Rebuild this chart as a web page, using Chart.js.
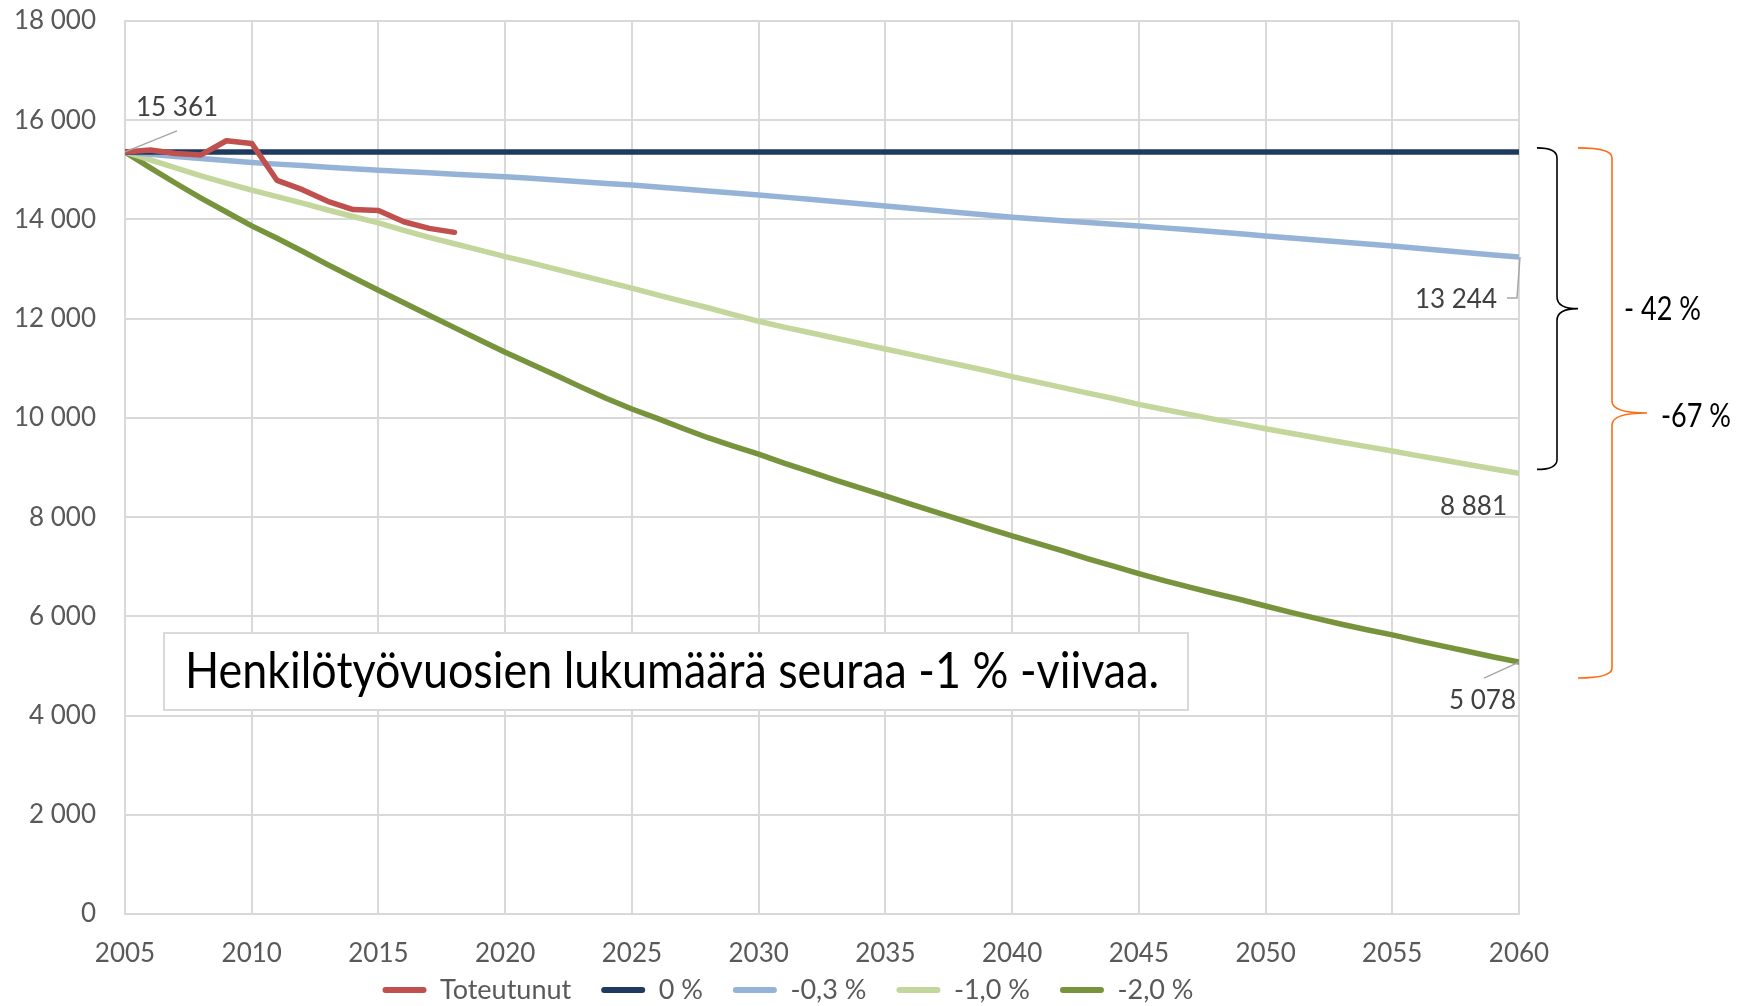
<!DOCTYPE html>
<html><head><meta charset="utf-8">
<script src="https://cdn.jsdelivr.net/npm/chart.js@4.4.1/dist/chart.umd.min.js"></script>
<style>html,body{margin:0;padding:0;background:#fff;overflow:hidden}</style>
</head><body>
<canvas id="c" width="1739" height="1006"></canvas>
<script>
const years = [2005,2006,2007,2008,2009,2010,2011,2012,2013,2014,2015,2016,2017,2018,2019,2020,2021,2022,2023,2024,2025,2026,2027,2028,2029,2030,2031,2032,2033,2034,2035,2036,2037,2038,2039,2040,2041,2042,2043,2044,2045,2046,2047,2048,2049,2050,2051,2052,2053,2054,2055,2056,2057,2058,2059,2060];
const toteutunutYears = [2005,2006,2007,2008,2009,2010,2011,2012,2013,2014,2015,2016,2017,2018];
const toteutunut = [15361,15400,15330,15300,15586,15533,14786,14600,14366,14200,14180,13953,13820,13740];
const zero = [15361,15361,15361,15361,15361,15361,15361,15361,15361,15361,15361,15361,15361,15361,15361,15361,15361,15361,15361,15361,15361,15361,15361,15361,15361,15361,15361,15361,15361,15361,15361,15361,15361,15361,15361,15361,15361,15361,15361,15361,15361,15361,15361,15361,15361,15361,15361,15361,15361,15361,15361,15361,15361,15361,15361,15361];
const minus03 = [15361,15315,15270,15230,15190,15150,15115,15085,15050,15020,14990,14965,14940,14910,14885,14860,14830,14795,14760,14725,14694,14655,14615,14575,14535,14493,14450,14405,14360,14315,14270,14225,14180,14135,14090,14046,14010,13975,13940,13905,13868,13830,13790,13750,13710,13667,13625,13585,13545,13505,13466,13420,13375,13330,13285,13244];
const minus10 = [15361,15200,15040,14880,14730,14590,14460,14330,14190,14060,13932,13780,13640,13510,13380,13252,13130,13000,12870,12740,12617,12480,12350,12220,12080,11947,11830,11720,11610,11500,11389,11280,11170,11060,10950,10831,10720,10610,10500,10390,10272,10170,10070,9970,9880,9781,9690,9600,9510,9420,9334,9240,9150,9060,8970,8881];
const minus20 = [15361,15040,14730,14430,14150,13870,13620,13360,13090,12830,12573,12320,12070,11820,11570,11322,11090,10860,10620,10390,10180,9990,9790,9600,9430,9268,9090,8920,8750,8590,8430,8260,8100,7940,7780,7620,7470,7320,7160,7010,6860,6720,6590,6460,6340,6208,6080,5960,5840,5730,5627,5510,5400,5290,5180,5078];
const seriesNames = ['Toteutunut','0 %','-0,3 %','-1,0 %','-2,0 %'];
const xTicks = [2005,2010,2015,2020,2025,2030,2035,2040,2045,2050,2055,2060];
const yTicks = [0,2000,4000,6000,8000,10000,12000,14000,16000,18000];
const noteText = 'Henkilötyövuosien lukumäärä seuraa -1 % -viivaa.';
const bracePercents = ['- 42 %','-67 %'];

function pts(xs, ys){ return xs.map((v,i)=>({x:v, y:ys[i]})); }
function fmt(v){ return String(v).replace(/\B(?=(\d{3})+(?!\d))/g,' '); }

const colors = ['#c0504d','#1f3a5f','#95b3d7','#c3d69b','#77933c'];
const dataSets = [pts(toteutunutYears,toteutunut), pts(years,zero), pts(years,minus03), pts(years,minus10), pts(years,minus20)];

const legendPlace = {
  id:'legendPlace',
  afterLayout(chart){
    const lg = chart.legend; if (!lg) return;
    const h = lg.bottom - lg.top;
    lg.left = 57;
    lg.top = 946.5; lg.bottom = lg.top + h;
  }
};

function fitText(ctx, text, x, y, width){
  const w = ctx.measureText(text).width;
  ctx.save(); ctx.translate(x, y); ctx.scale(width / w, 1); ctx.fillText(text, 0, 0); ctx.restore();
}

const annot = {
  id:'annot',
  beforeDatasetsDraw(chart){
    const {ctx, chartArea:ca} = chart;
    ctx.save();
    const l = ca.left + 39, t = ca.top + 612, r = ca.left + 1063, b = ca.top + 689;
    ctx.fillStyle = '#ffffff'; ctx.fillRect(l,t,r-l,b-t);
    ctx.strokeStyle = '#d9d9d9'; ctx.lineWidth = 2; ctx.strokeRect(l,t,r-l,b-t);
    ctx.font = '50px Lato'; ctx.fillStyle = '#000'; ctx.textBaseline = 'middle'; ctx.textAlign = 'left';
    fitText(ctx, noteText, l + 21, (t+b)/2, 974);
    ctx.restore();
  },
  afterDatasetsDraw(chart){
    const {ctx, chartArea:ca, scales:{x,y}} = chart;
    ctx.save();
    ctx.font = '26px Lato'; ctx.fillStyle = '#404040'; ctx.textBaseline = 'middle';
    ctx.strokeStyle = '#a6a6a6'; ctx.lineWidth = 1.5;
    const p0 = {x:x.getPixelForValue(years[0]), y:y.getPixelForValue(zero[0])};
    ctx.beginPath(); ctx.moveTo(p0.x, p0.y); ctx.lineTo(p0.x+52, p0.y-21); ctx.stroke();
    ctx.textAlign = 'left'; ctx.fillText(fmt(zero[0]), p0.x+11, p0.y-44);
    const last = years.length-1;
    const xe = x.getPixelForValue(years[last]);
    const p1 = y.getPixelForValue(minus03[last]);
    ctx.beginPath(); ctx.moveTo(xe+1, p1); ctx.lineTo(xe-2, p1+41); ctx.lineTo(xe-12, p1+41); ctx.stroke();
    ctx.textAlign = 'right'; ctx.fillText(fmt(minus03[last]), xe-22, p1+43);
    const p2 = y.getPixelForValue(minus10[last]);
    ctx.fillText(fmt(minus10[last]), xe-12, p2+33);
    const p3 = y.getPixelForValue(minus20[last]);
    ctx.beginPath(); ctx.moveTo(xe, p3); ctx.lineTo(xe-35, p3+16); ctx.stroke();
    ctx.fillText(fmt(minus20[last]), xe-3, p3+39);
    function brace(x0, xv, xp, top, bot, color){
      const mid = (top+bot)/2;
      ctx.beginPath();
      ctx.moveTo(x0, top);
      ctx.quadraticCurveTo(xv, top, xv, top+10);
      ctx.lineTo(xv, mid-12);
      ctx.quadraticCurveTo(xv, mid, xp, mid);
      ctx.quadraticCurveTo(xv, mid, xv, mid+12);
      ctx.lineTo(xv, bot-10);
      ctx.quadraticCurveTo(xv, bot, x0, bot);
      ctx.strokeStyle = color; ctx.lineWidth = 1.6; ctx.stroke();
      return mid;
    }
    const top = p0.y - 4;
    const m1 = brace(ca.right+18, ca.right+38, ca.right+59, top, p2-4, '#000000');
    const m2 = brace(ca.right+59, ca.right+93, ca.right+128, top, p3+16, '#ff6a13');
    ctx.font = '33px Lato'; ctx.fillStyle = '#000'; ctx.textAlign = 'left';
    fitText(ctx, bracePercents[0], ca.right+105, m1+1, 77);
    fitText(ctx, bracePercents[1], ca.right+142, m2+3, 70);
    ctx.restore();
  }
};

new Chart(document.getElementById('c'), {
  type:'line',
  data:{
    datasets: seriesNames.map((n,i)=>({
      label:n, data:dataSets[i], borderColor:colors[i], backgroundColor:colors[i],
      borderWidth: 5.5, pointRadius:0, tension:0, fill:false,
      borderJoinStyle:'round', borderCapStyle:'round'
    }))
  },
  options:{
    responsive:false, animation:false, devicePixelRatio:1,
    layout:{padding:{left:0,right:220,top:21,bottom:-28}},
    scales:{
      x:{type:'linear', min:2005, max:2060,
        afterFit(s){ s.height = 53; },
        afterBuildTicks(s){ s.ticks = xTicks.map(v=>({value:v})); },
        ticks:{padding:24, color:'#595959', font:{family:'Lato', size:26}, callback:v=>String(v), maxRotation:0, autoSkip:false},
        grid:{color:'#d9d9d9', lineWidth:2, drawTicks:false},
        border:{color:'#d9d9d9', width:2}},
      y:{min:0, max:18000,
        afterFit(s){ s.width = 125; s.paddingTop = 15; s.paddingBottom = 15; },
        afterBuildTicks(s){ s.ticks = yTicks.map(v=>({value:v})); },
        ticks:{padding:29, color:'#595959', font:{family:'Lato', size:26}, callback:v=>fmt(v)},
        grid:{color:'#d9d9d9', lineWidth:2, drawTicks:false},
        border:{color:'#d9d9d9', width:2}}
    },
    plugins:{
      tooltip:{enabled:false},
      legend:{position:'bottom', labels:{
        font:{family:'Lato', size:27}, color:'#595959', boxWidth:44, boxHeight:6, padding:30,
        useBorderRadius:true, borderRadius:3,
        generateLabels(chart){
          return Chart.defaults.plugins.legend.labels.generateLabels(chart).map(l=>Object.assign(l,{lineWidth:0, fillStyle:l.strokeStyle}));
        }
      }}
    }
  },
  plugins:[legendPlace, annot]
});
</script>
</body></html>
